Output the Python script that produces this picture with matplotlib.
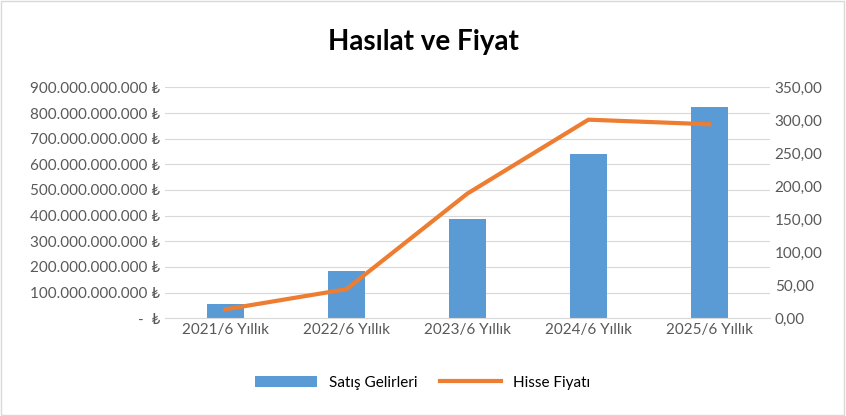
import matplotlib.pyplot as plt
from matplotlib.ticker import FuncFormatter

plt.rcParams['font.family'] = ['Lato', 'DejaVu Sans']

categories = ["2021/6 Yıllık", "2022/6 Yıllık", "2023/6 Yıllık", "2024/6 Yıllık", "2025/6 Yıllık"]
revenue = [55e9, 183e9, 385e9, 642e9, 822e9]
price = [13.5, 44.0, 189.0, 301.0, 294.0]


def lira(v, _):
    if v == 0:
        return "-  ₺"
    return f"{int(round(v)):,}".replace(",", ".") + " ₺"


def dec(v, _):
    return f"{v:.2f}".replace(".", ",")


fig = plt.figure(figsize=(8.46, 4.16), dpi=100)
ax = fig.add_axes([0.195, 0.235, 0.715, 0.555])
x = range(len(categories))
ax.bar(x, revenue, width=0.3, color="#5B9BD5", label="Satış Gelirleri", zorder=2)
ax.set_ylim(0, 900e9)
ax.set_yticks([i * 100e9 for i in range(10)])
ax.yaxis.set_major_formatter(FuncFormatter(lira))
ax.grid(axis="y", color="#D9D9D9", linewidth=0.8, zorder=0)
ax.set_xticks(list(x))
ax.set_xticklabels(categories)
ax.set_xlim(-0.5, 4.5)
ax.tick_params(length=0, labelsize=11, colors="#595959")
for s in ["top", "right", "left"]:
    ax.spines[s].set_visible(False)
ax.spines["bottom"].set_color("#D9D9D9")

ax2 = ax.twinx()
ax2.plot(x, price, color="#ED7D31", linewidth=3, label="Hisse Fiyatı")
ax2.set_ylim(0, 350)
ax2.set_yticks(range(0, 351, 50))
ax2.yaxis.set_major_formatter(FuncFormatter(dec))
ax2.tick_params(length=0, labelsize=11, colors="#595959")
for s in ax2.spines.values():
    s.set_visible(False)

fig.suptitle("Hasılat ve Fiyat", fontsize=20, fontweight="bold", y=0.93)
h1, l1 = ax.get_legend_handles_labels()
h2, l2 = ax2.get_legend_handles_labels()
fig.legend(h1 + h2, l1 + l2, loc="center", bbox_to_anchor=(0.5, 0.08), ncol=2,
           frameon=False, fontsize=11, handlelength=4, columnspacing=1.5)
fig.patches.append(plt.Rectangle((0.001, 0.002), 0.997, 0.995, transform=fig.transFigure,
                                 fill=False, edgecolor="#D9D9D9", linewidth=1))
fig.savefig("out.png", dpi=100)
